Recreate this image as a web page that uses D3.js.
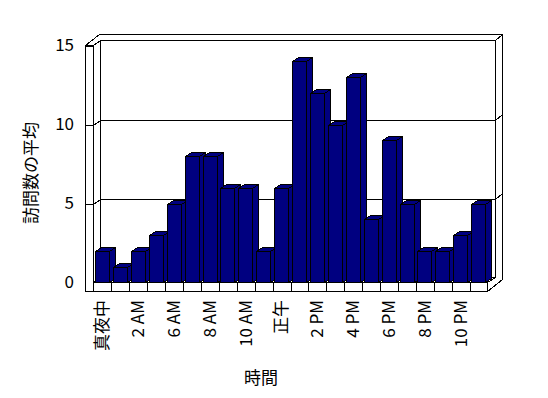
<!DOCTYPE html>
<html>
<head>
<meta charset="utf-8">
<script src="https://cdn.jsdelivr.net/npm/d3@7"></script>
<style>
  body { margin: 0; background: #fff; }
  text { font-family: "Noto Sans CJK JP", sans-serif; font-size: 17px; fill: #000; }
  rect, line, polyline, polygon { shape-rendering: crispEdges; }
</style>
</head>
<body>
<div id="chart"></div>
<script>
const categories = ["真夜中", "1 AM", "2 AM", "4 AM", "6 AM", "7 AM", "8 AM", "9 AM", "10 AM", "11 AM",
  "正午", "1 PM", "2 PM", "3 PM", "4 PM", "5 PM", "6 PM", "7 PM", "8 PM", "9 PM", "10 PM", "11 PM"]
const values = [2, 1, 2, 3, 5, 8, 8, 6, 6, 2, 6, 14, 12, 10, 13, 4, 9, 5, 2, 2, 3, 5]
const yTicks = [0, 5, 10, 15]
const xTitle = "時間"
const yTitle = "訪問数の平均"

const width = 548
const height = 398
// front plane of the plot box
const left = 93.5
const right = 487.5
const floorTop = 282.5
const floorBottom = 291.5
const wallTop = 45.5
const wallLeft = 85.5
// oblique offsets: depth to back wall, back wall thickness, bar depth
const d1 = { x: 7, y: -5 }
const d2 = { x: 7, y: -6 }
const bd = { x: 6, y: -4 }
const navy = "#000080"

const xScale = d3.scaleBand().domain(categories).range([left, right])
const yScale = d3.scaleLinear().domain([0, 15]).range([floorTop, wallTop])

const svg = d3.select("#chart")
  .append("svg")
  .attr("width", width)
  .attr("height", height)

const poly = pts => pts.map(p => p.join(",")).join(" ")
const box = svg.append("g").attr("fill", "#fff").attr("stroke", "#000").attr("stroke-width", 1)

// silhouette of walls + floor
box.append("polygon").attr("points", poly([
  [wallLeft, wallTop], [wallLeft + d1.x + d2.x, wallTop + d1.y + d2.y],
  [right + 8 + d2.x, wallTop + d1.y + d2.y], [right + 8 + d2.x, floorTop + d1.y + d2.y + 8],
  [right, floorBottom], [wallLeft, floorBottom]
]))
// back wall front face
box.append("rect")
  .attr("x", left + d1.x).attr("y", yScale(15) + d1.y)
  .attr("width", right + 8 - left - d1.x).attr("height", yScale(0) - yScale(15))
box.append("line")
  .attr("x1", right + 8).attr("y1", yScale(15) + d1.y)
  .attr("x2", right + 8 + d2.x).attr("y2", yScale(15) + d1.y + d2.y)
// left wall inner face
box.append("polygon").attr("points", poly([
  [left, wallTop], [left + d1.x, wallTop + d1.y], [left + d1.x, floorTop + d1.y], [left, floorTop]
]))
// left wall front face
box.append("rect").attr("x", wallLeft).attr("y", wallTop)
  .attr("width", left - wallLeft).attr("height", floorBottom - wallTop)
// floor top + front face
box.append("polygon").attr("points", poly([
  [left, floorTop], [left + d1.x, floorTop + d1.y], [right + 8, floorTop + d1.y], [right, floorTop]
]))
box.append("rect").attr("x", left).attr("y", floorTop)
  .attr("width", right - left).attr("height", floorBottom - floorTop)

// gridlines
const grid = svg.append("g").attr("stroke", "#000").attr("fill", "none")
yTicks.filter(v => v > 0 && v < 15).forEach(v => {
  const y = Math.round(yScale(v)) + 0.5
  grid.append("polyline").attr("points", poly([
    [left, y], [left + d1.x, y + d1.y], [right + 8, y + d1.y], [right + 8 + d2.x, y + d1.y + d2.y]
  ]))
})
yTicks.filter(v => v > 0).forEach(v => {
  const y = Math.round(yScale(v)) + 0.5
  grid.append("line").attr("x1", wallLeft).attr("x2", left)
    .attr("y1", y).attr("y2", y)
})

// category ticks on floor front face
grid.selectAll(".ftick")
  .data(categories.slice(1))
  .enter()
  .append("line")
  .attr("x1", d => Math.round(xScale(d)) + 0.5).attr("x2", d => Math.round(xScale(d)) + 0.5)
  .attr("y1", floorTop).attr("y2", floorBottom)

// bars
const bw = 14
const bars = svg.append("g").selectAll("g")
  .data(categories.map((c, i) => ({ c, v: values[i] })))
  .enter()
  .append("g")
  .attr("fill", navy).attr("stroke", "#000")
bars.each(function (d) {
  const g = d3.select(this)
  const x0 = Math.round(xScale(d.c) + 1.6) + 0.5
  const x1 = x0 + bw
  const y0 = Math.round(yScale(d.v)) + 0.5
  const y1 = Math.round(yScale(0)) - 0.5
  g.append("polygon").attr("points", poly([
    [x1, y1], [x1 + bd.x, y1 + bd.y], [x1 + bd.x, y0 + bd.y], [x1, y0]
  ]))
  g.append("polygon").attr("points", poly([
    [x0, y0], [x0 + bd.x, y0 + bd.y], [x1 + bd.x, y0 + bd.y], [x1, y0]
  ]))
  g.append("rect").attr("x", x0).attr("y", y0).attr("width", bw).attr("height", y1 - y0)
})

// axes
svg.append("g")
  .attr("transform", "translate(74,0)")
  .call(d3.axisLeft(yScale).tickValues(yTicks).tickSize(0).tickPadding(0))
  .call(g => g.select(".domain").remove())
  .selectAll("text")
  .attr("font-family", null).attr("font-size", null)

svg.append("g")
  .attr("transform", "translate(0,300)")
  .call(d3.axisBottom(xScale)
    .tickValues(categories.filter((d, i) => i % 2 === 0))
    .tickSize(0))
  .call(g => g.select(".domain").remove())
  .selectAll("text")
  .attr("font-family", null).attr("font-size", null)
  .attr("transform", "rotate(-90)")
  .attr("x", 0).attr("y", 0).attr("dy", "0.35em")
  .attr("text-anchor", "end")

svg.append("text")
  .attr("x", 261).attr("y", 384)
  .attr("text-anchor", "middle")
  .text(xTitle)

svg.append("text")
  .attr("transform", "translate(31,173) rotate(-90)")
  .attr("text-anchor", "middle")
  .attr("dy", "0.35em")
  .text(yTitle)
</script>
</body>
</html>
